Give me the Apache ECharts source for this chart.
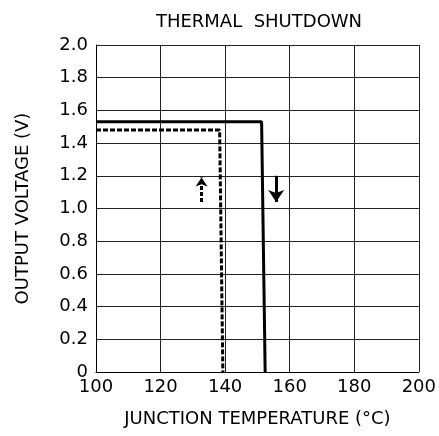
<!DOCTYPE html>
<html>
<head>
<meta charset="utf-8">
<script src="https://cdn.jsdelivr.net/npm/echarts@6/dist/echarts.min.js"></script>
<style>
html,body{margin:0;padding:0;background:#fff;}
#main{width:439px;height:436px;}
</style>
</head>
<body>
<div id="main"></div>
<script>
// 曲线数据 (温度 °C, 电压 V)
var solidTemp = [100, 151.3, 152.4];
var solidVolt = [1.53, 1.53, 0];
var dashTemp = [100, 138.3, 139.3];
var dashVolt = [1.48, 1.48, 0];
// 箭头: [温度, 起点电压, 终点电压]
var upArrow = [132.7, 1.04, 1.19];
var downArrow = [155.8, 1.20, 1.04];

var font = 'DejaVu Sans';

function pairs(xs, ys){
    var out = [];
    xs.forEach(function(x, i){ out.push([x, ys[i]]); });
    return out;
}

var myChart = echarts.init(document.getElementById('main'));

var option = {
    animation: false,
    title: {
        text: 'THERMAL  SHUTDOWN',
        left: 254,
        textAlign: 'center',
        top: 8,
        textStyle: {fontFamily: font, fontSize: 18, fontWeight: 'normal', color: '#000'}
    },
    grid: {left: 96, right: 20, top: 45, bottom: 64},
    xAxis: {
        type: 'value',
        min: 100, max: 200, interval: 20,
        name: 'JUNCTION TEMPERATURE (°C)',
        nameLocation: 'middle',
        nameGap: 38,
        nameTextStyle: {fontFamily: font, fontSize: 18, color: '#000'},
        axisLine: {show: true, lineStyle: {color: '#000', width: 1}},
        axisTick: {show: false},
        axisLabel: {fontFamily: font, fontSize: 18, color: '#000', margin: 6},
        splitLine: {show: true, lineStyle: {color: '#222', width: 1}}
    },
    yAxis: {
        type: 'value',
        min: 0, max: 2, interval: 0.2,
        name: 'OUTPUT VOLTAGE (V)',
        nameLocation: 'middle',
        nameGap: 64,
        nameTextStyle: {fontFamily: font, fontSize: 18, color: '#000'},
        axisLine: {show: true, lineStyle: {color: '#000', width: 1}},
        axisTick: {show: false},
        axisLabel: {
            fontFamily: font, fontSize: 18, color: '#000', margin: 8,
            formatter: function(v){ return v === 0 ? '0' : v.toFixed(1); }
        },
        splitLine: {show: true, lineStyle: {color: '#222', width: 1}}
    },
    series: [
        {
            type: 'line',
            data: pairs(solidTemp, solidVolt),
            symbol: 'none',
            lineStyle: {color: '#000', width: 3},
            markLine: {
                silent: true,
                symbol: ['none', 'arrow'],
                symbolSize: [12, 12],
                label: {show: false},
                lineStyle: {color: '#000', width: 3, type: 'solid'},
                data: [[{coord: [downArrow[0], downArrow[1]]}, {coord: [downArrow[0], downArrow[2]]}]]
            }
        },
        {
            type: 'line',
            data: pairs(dashTemp, dashVolt),
            symbol: 'none',
            lineStyle: {color: '#000', width: 3, type: [5, 2]},
            markLine: {
                silent: true,
                symbol: ['none', 'arrow'],
                symbolSize: [9, 9],
                label: {show: false},
                lineStyle: {color: '#000', width: 3, type: [4, 2]},
                data: [[{coord: [upArrow[0], upArrow[1]]}, {coord: [upArrow[0], upArrow[2]]}]]
            }
        }
    ]
};

myChart.setOption(option);
</script>
</body>
</html>
